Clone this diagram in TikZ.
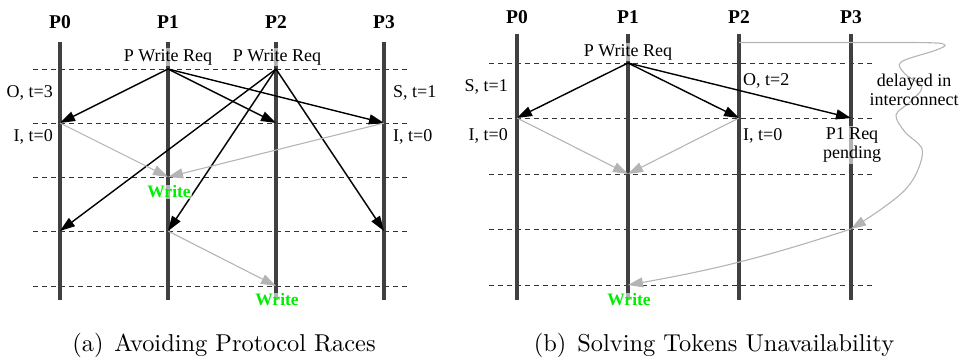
\documentclass[tikz,border=0pt]{standalone}
\usepackage{fontspec}
\newfontfamily\tms{Liberation Serif}
\usetikzlibrary{arrows.meta}
\definecolor{lanec}{HTML}{404040}
\definecolor{dashc}{HTML}{333333}
\definecolor{lgray}{HTML}{B4B4B4}
\definecolor{wgreen}{HTML}{00EE00}
\tikzset{
 lane/.style={draw=lanec, line width=3.2pt},
 tick/.style={draw=dashc, line width=0.9pt, dash pattern=on 5pt off 4pt},
 msg/.style={draw=black, line width=1.4pt, -{Triangle[length=15pt,width=10pt]}},
 resp/.style={draw=lgray, line width=1.1pt, -{Triangle[length=15pt,width=10pt]}},
 proc/.style={font=\tms\fontsize{19.5}{22}\selectfont\bfseries, inner sep=0pt},
 lbl/.style={font=\tms\fontsize{18}{20.5}\selectfont, inner sep=1pt},
 veil/.style={fill=white, fill opacity=0.6, text opacity=1},
 wr/.style={font=\tms\fontsize{17.5}{20}\selectfont\bfseries, text=wgreen, veil, inner sep=1pt},
 captxt/.style={font=\fontsize{10}{12}\selectfont, scale=2.44, inner sep=0pt},
}
\begin{document}
\begin{tikzpicture}[x=1pt,y=-1pt]
\useasboundingbox (0,0) rectangle (964,362);
% ---------- (a) ----------
\foreach \y [count=\i] in {69,123,177,231,286} {
  \coordinate (aL\i) at (33,\y); \coordinate (aR\i) at (407,\y);
  \draw[tick] (aL\i) -- (aR\i);
}
\foreach \x [count=\j from 0] in {60,168,276,384} {
  \coordinate (aT\j) at (\x,42); \coordinate (aB\j) at (\x,300);
  \draw[lane] (aT\j) -- (aB\j);
  \node[proc] (aP\j) at (\x,22) {P\j};
  \foreach \y [count=\i] in {69,123,177,231,286} { \coordinate (a\j\i) at (\x,\y); }
}
\draw[msg] (a11) -- (a02);
\draw[msg] (a11) -- (a22);
\draw[msg] (a11) -- (a32);
\draw[msg] (a21) -- (a04);
\draw[msg] (a21) -- (a14);
\draw[msg] (a21) -- (a34);
\draw[resp] (a02) -- (a13);
\draw[resp] (a32) -- (a13);
\draw[resp] (a14) -- (a25);
\node[lbl, veil] (areq1) at (168,57) {P Write Req};
\node[lbl, veil] (areq2) at (277,57) {P Write Req};
\node[lbl, anchor=east] (aO) at (54,93) {O, t=3};
\node[lbl, anchor=east] (aI0) at (54,137) {I, t=0};
\node[lbl, anchor=west] (aS) at (392,93) {S, t=1};
\node[lbl, anchor=west] (aI3) at (392,137) {I, t=0};
\node[wr] (aW1) at (169,192) {Write};
\node[wr] (aW2) at (277,300) {Write};
\node[captxt] (acap) at (224,345) {(a)\hspace{0.45em}Avoiding Protocol Races};
% ---------- (b) ----------
\foreach \y [count=\i] in {63,118,174,229,285} {
  \coordinate (bL\i) at (489,\y); \coordinate (bR\i) at (873,\y);
  \draw[tick] (bL\i) -- (bR\i);
}
\foreach \x [count=\j from 0] in {517,628,739,851} {
  \coordinate (bT\j) at (\x,34); \coordinate (bB\j) at (\x,300);
  \draw[lane] (bT\j) -- (bB\j);
  \node[proc] (bP\j) at (\x,17) {P\j};
  \foreach \y [count=\i] in {63,118,174,229,285} { \coordinate (b\j\i) at (\x,\y); }
}
\coordinate (bwave) at (739,42.5);
\draw[msg] (b11) -- (b02);
\draw[msg] (b11) -- (b22);
\draw[msg] (b11) -- (b32);
\draw[resp] (b02) -- (b13);
\draw[resp] (b22) -- (b13);
\draw[resp] plot[smooth, tension=0.55] coordinates {(bwave) (840,42.5) (928,42.7) (945,45) (935,50.5) (901,62) (905,74) (922,87) (910,102) (896,115) (905,132) (922,149) (917,172) (904,191) (880,210) (b34)};
\draw[resp] (b34) to[bend left=4] (b15);
\node[lbl, veil] (breq) at (628,52) {P Write Req};
\node[lbl, anchor=east] (bS) at (509,87) {S, t=1};
\node[lbl, anchor=east] (bI0) at (509,136) {I, t=0};
\node[lbl, anchor=west] (bO) at (742,81) {O, t=2};
\node[lbl, anchor=west] (bI2) at (742,136) {I, t=0};
\node[lbl, veil, align=center] (bpend) at (852,145) {P1 Req\\[-1pt]pending};
\node[lbl, align=center] (bdel) at (914,90) {delayed in\\[-1pt]interconnect};
\node[wr] (bW) at (629,300) {Write};
\node[captxt] (bcap) at (714,345) {(b)\hspace{0.45em}Solving Tokens Unavailability};
\end{tikzpicture}
\end{document}
